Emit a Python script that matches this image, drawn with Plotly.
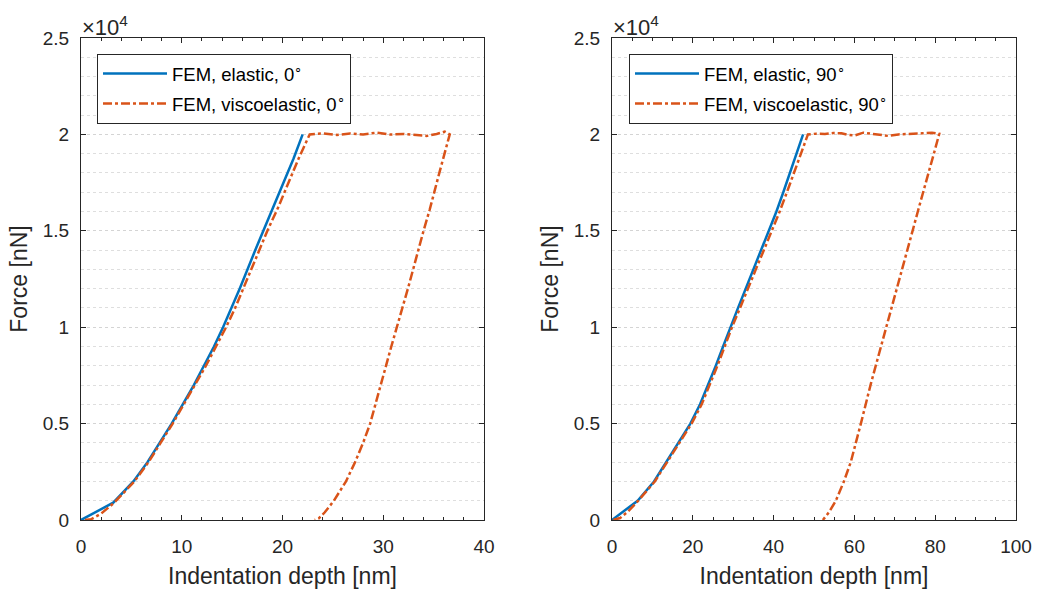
import plotly.graph_objects as go

# ---------------- data ----------------
# Left panel: 0 degrees
depth_el_0 = [0, 3.2, 5.2, 6.6, 7.8, 9.0, 10.1, 11.2, 12.2, 13.2, 14.1, 14.95, 15.75, 17.3, 18.1, 19.1, 20.1, 21.1, 22.0]
force_el_0 = [0, 900, 2000, 3000, 4000, 5000, 6000, 7000, 8000, 9000, 10000, 11000, 12000, 14000, 15000, 16250, 17500, 18750, 20000]

depth_ve_0 = [0.4, 1.0, 2.0, 3.3, 5.3, 6.7, 7.9, 9.1, 10.2, 11.3, 12.4, 13.4, 14.4, 15.3, 16.1, 17.7, 18.5, 19.6, 20.6, 21.6, 22.7,
              24.05, 25.4, 26.7, 28.0, 29.3, 30.7, 32.0, 33.3, 34.3, 35.3, 36.1, 36.6,
              36.1, 35.6, 34.6, 34.0, 32.5, 31.3, 30.8, 29.8, 28.7, 28.0, 27.2, 26.3, 25.1, 24.2, 23.6, 23.2]
force_ve_0 = [0, 40, 330, 900, 2000, 3000, 4000, 5000, 6000, 7000, 8000, 9000, 10000, 11000, 12000, 14000, 15000, 16250, 17500, 18750, 20000,
              20050, 19970, 20050, 19990, 20090, 19990, 20020, 19970, 19920, 20020, 20140, 20000,
              19100, 18070, 16080, 15000, 12100, 10000, 9000, 7100, 5000, 4000, 3000, 2000, 1000, 400, 80, 0]

# Right panel: 90 degrees
depth_el_90 = [0, 6.35, 10.4, 13.4, 16.5, 19.4, 21.8, 23.8, 25.7, 27.5, 29.3, 31.2, 33.1, 35.0, 37.0, 38.9, 40.7, 42.4, 44.1, 45.7, 47.3]
force_el_90 = [0, 1000, 2000, 3000, 4000, 5000, 6000, 7000, 8000, 9000, 10000, 11000, 12000, 13000, 14000, 15000, 16000, 17000, 18000, 19000, 20000]

depth_ve_90 = [0.3, 2.0, 4.0, 6.5, 10.6, 13.6, 16.7, 19.7, 22.2, 24.2, 26.1, 27.9, 29.7, 31.7, 33.6, 35.6, 37.6, 39.6, 41.5, 43.3, 45.0, 46.7, 48.5,
               50.6, 52.7, 54.8, 56.8, 58.5, 60.2, 62.2, 65.1, 68.4, 70.9, 74.2, 76.7, 79.2, 81.0,
               79.8, 78.5, 75.8, 74.4, 73.2, 70.6, 67.9, 66.6, 64.1, 61.6, 60.4, 59.1, 57.4, 55.4, 53.7, 52.2]
force_ve_90 = [0, 100, 450, 1000, 2000, 3000, 4000, 5000, 6000, 7000, 8000, 9000, 10000, 11000, 12000, 13000, 14000, 15000, 16000, 17000, 18000, 19000, 20000,
               20040, 20020, 20070, 20055, 19970, 19950, 20090, 20020, 19920, 20000, 20020, 20055, 20090, 20030,
               19100, 18070, 16080, 15000, 14090, 12100, 10000, 8990, 7090, 5000, 4000, 3000, 2000, 1000, 400, 0]

ytick_vals = [0, 5000, 10000, 15000, 20000, 25000]
ytick_text = ["0", "0.5", "1", "1.5", "2", "2.5"]
xtick_left = [0, 10, 20, 30, 40]
xtick_right = [0, 20, 40, 60, 80, 100]

BLUE = "#0072BD"
ORANGE = "#D95319"
DARK = "#262626"
FONT = "Liberation Sans, Arial, sans-serif"

fig = go.Figure()
fig.add_trace(go.Scatter(x=depth_el_0, y=force_el_0, mode="lines", name="FEM, elastic, 0<sup>∘</sup>",
                         line=dict(color=BLUE, width=2.5), xaxis="x", yaxis="y", legend="legend",
                         legendgroup="a"))
fig.add_trace(go.Scatter(x=depth_ve_0, y=force_ve_0, mode="lines", name="FEM, viscoelastic, 0<sup>∘</sup>",
                         line=dict(color=ORANGE, width=2.5, dash="dashdot"), xaxis="x", yaxis="y",
                         legend="legend", legendgroup="b"))
fig.add_trace(go.Scatter(x=depth_el_90, y=force_el_90, mode="lines", name="FEM, elastic, 90<sup>∘</sup>",
                         line=dict(color=BLUE, width=2.5), xaxis="x2", yaxis="y2", legend="legend2",
                         legendgroup="c"))
fig.add_trace(go.Scatter(x=depth_ve_90, y=force_ve_90, mode="lines", name="FEM, viscoelastic, 90<sup>∘</sup>",
                         line=dict(color=ORANGE, width=2.5, dash="dashdot"), xaxis="x2", yaxis="y2",
                         legend="legend2", legendgroup="d"))

W, H = 1039, 596
ML, MR, MT, MB = 81, 23, 38, 76
PW = W - ML - MR
PH = H - MT - MB


def px(xpix):
    return (xpix - ML) / PW


def py(ypix):
    return (H - MB - ypix) / PH


common_x = dict(showline=True, linecolor=DARK, linewidth=1, mirror="allticks", ticks="inside",
                ticklen=5, tickcolor=DARK, showgrid=False, zeroline=False,
                tickfont=dict(size=19, color=DARK, family=FONT),
                title=dict(text="Indentation depth [nm]", font=dict(size=23, color=DARK, family=FONT), standoff=12),
                ticklabelstandoff=9)
common_y = dict(showline=True, linecolor=DARK, linewidth=1, mirror="allticks", ticks="inside",
                ticklen=5, tickcolor=DARK, zeroline=False, range=[0, 25000],
                tickvals=ytick_vals, ticktext=ytick_text,
                showgrid=True, gridcolor="#d4d4d4", griddash="dot", gridwidth=1,
                minor=dict(dtick=1000, showgrid=True, gridcolor="#dedede", griddash="dot", ticks=""),
                tickfont=dict(size=19, color=DARK, family=FONT),
                title=dict(text="Force [nN]", font=dict(size=23, color=DARK, family=FONT), standoff=8),
                ticklabelstandoff=7)

fig.update_layout(
    width=W, height=H,
    margin=dict(l=ML, r=MR, t=MT, b=MB, autoexpand=False),
    paper_bgcolor="white", plot_bgcolor="white",
    font=dict(family=FONT, color=DARK),
    xaxis=dict(domain=[0, (484 - ML) / PW], range=[0, 40], tickvals=xtick_left,
               minor=dict(dtick=2, ticks="inside", ticklen=3, tickcolor=DARK, showgrid=False), **common_x),
    yaxis=dict(anchor="x", **common_y),
    xaxis2=dict(domain=[(612 - ML) / PW, 1], range=[0, 100], tickvals=xtick_right, anchor="y2",
                minor=dict(dtick=5, ticks="inside", ticklen=3, tickcolor=DARK, showgrid=False), **common_x),
    yaxis2=dict(anchor="x2", **common_y),
    legend=dict(x=px(97), y=py(54), xanchor="left", yanchor="top", bgcolor="white",
                bordercolor=DARK, borderwidth=1, font=dict(size=18.5, color="#000000", family=FONT),
                itemwidth=64, tracegroupgap=3, traceorder="grouped"),
    legend2=dict(x=px(629), y=py(54), xanchor="left", yanchor="top", bgcolor="white",
                 bordercolor=DARK, borderwidth=1, font=dict(size=18.5, color="#000000", family=FONT),
                 itemwidth=64, tracegroupgap=3, traceorder="grouped"),
    showlegend=True,
    annotations=[
        dict(text="×10<sup>4</sup>", x=px(80), y=py(26), xref="paper", yref="paper",
             xanchor="left", yanchor="middle", showarrow=False, font=dict(size=22, color=DARK, family=FONT)),
        dict(text="×10<sup>4</sup>", x=px(611), y=py(26), xref="paper", yref="paper",
             xanchor="left", yanchor="middle", showarrow=False, font=dict(size=22, color=DARK, family=FONT)),
    ],
)

fig.write_html("out.html")
